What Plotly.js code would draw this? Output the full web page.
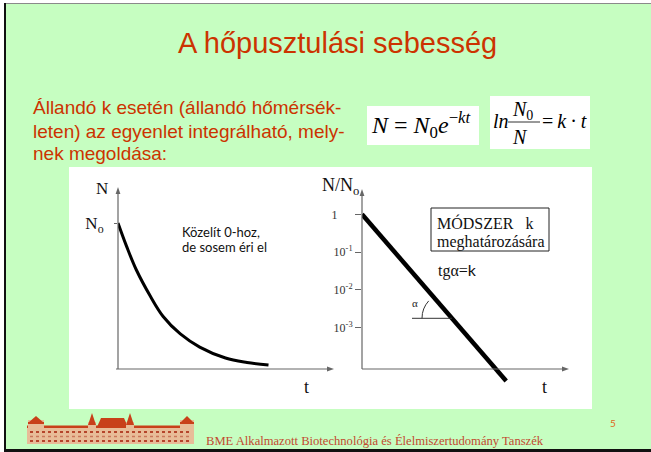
<!DOCTYPE html>
<html><head><meta charset="utf-8">
<script src="https://cdn.plot.ly/plotly-3.0.1.min.js"></script>
<style>html,body{margin:0;padding:0;background:#fff;overflow:hidden}#chart{width:651px;height:452px}</style>
</head><body><div id="chart"></div>
<script>
// ---- Data ----
// Left chart: N(t), exponential decay from N0 (N0 = 100)
const decayT = [0, 0.4, 0.85, 1.5, 2.1, 2.9, 3.8, 5.0, 6.0, 7.0];
const decayN = [100, 84, 68, 50, 36, 24, 15, 7.5, 4.5, 2.7];
const leftTickVals = [100];
const leftTickText = ['N<sub>o</sub>'];
// Right chart: N/N0 on a log scale vs t (straight line)
const logT = [0, 7];
const logRatio = [1, 0.000038];
const rightTickVals = [1, 0.1, 0.01, 0.001];
const rightTickText = ['1\u00a0\u00a0\u00a0\u00a0\u00a0', '10<sup>-1</sup>', '10<sup>-2</sup>', '10<sup>-3</sup>'];

// ---- Layout helpers ----
const W = 651, H = 452;
const px = x => x / W;
const py = y => 1 - y / H;
const SANS = 'Liberation Sans, Arial, sans-serif';
const SERIF = 'Liberation Serif, Times New Roman, serif';
const CAL = 'Lato, Open Sans, sans-serif';
const RED = '#CC3300';

function ann(text, x, y, font, xanchor, extra) {
  return Object.assign({text: text, xref: 'paper', yref: 'paper', x: px(x), y: py(y),
    showarrow: false, xanchor: xanchor || 'left', yanchor: 'middle', font: font}, extra || {});
}
function rect(x0, y0, x1, y1, fill, line, layer) {
  return {type: 'rect', xref: 'paper', yref: 'paper', x0: px(x0), x1: px(x1), y0: py(y1), y1: py(y0),
    fillcolor: fill, line: line || {width: 0}, layer: layer || 'below'};
}
function seg(x0, y0, x1, y1, color, width, dash) {
  return {type: 'line', xref: 'paper', yref: 'paper', x0: px(x0), x1: px(x1), y0: py(y0), y1: py(y1),
    line: {color: color, width: width, dash: dash || 'solid'}, layer: 'above'};
}
function poly(pts, fill, layer) {
  return {type: 'path', xref: 'paper', yref: 'paper',
    path: 'M ' + pts.map(p => px(p[0]) + ',' + py(p[1])).join(' L ') + ' Z',
    fillcolor: fill, line: {width: 0}, layer: layer || 'above'};
}

const AX = '#666';
const TAN = '#E8BC98';
const ROOF = '#C8401A';
const shapes = [
  // slide frame
  rect(6, 4, 651, 449, '#C6FEC1'),
  rect(4, 3, 651, 4, '#8a8a8a'),
  rect(4, 3, 6, 452, '#111'),
  rect(4, 449, 651, 452, '#111'),
  // white picture panel and formula boxes
  rect(69, 167, 592, 409, '#ffffff'),
  rect(367, 106, 479, 145, '#ffffff'),
  rect(490, 96, 590, 149, '#ffffff'),
  // fraction bar
  seg(508, 122, 540, 122, '#333', 1),
  // left chart axes
  seg(118, 369, 118, 191, AX, 1.2),
  seg(116, 369, 330, 369, AX, 1.2),
  poly([[115.6, 194], [118, 187], [120.4, 194]], AX),
  poly([[327, 366.6], [334, 369], [327, 371.4]], AX),
  // right chart axes
  seg(362, 369, 362, 193, AX, 1.2),
  seg(362, 369, 565, 369, AX, 1.2),
  poly([[359.6, 196], [362, 189], [364.4, 196]], AX),
  poly([[562, 366.6], [569, 369], [562, 371.4]], AX),
  // method box
  {type: 'rect', xref: 'paper', yref: 'paper', x0: px(431), x1: px(549), y0: py(251), y1: py(208),
    line: {color: '#222', width: 1}, fillcolor: 'rgba(0,0,0,0)', layer: 'above'},
  // angle alpha
  seg(412, 318.3, 452, 318.3, '#333', 1),
  {type: 'path', xref: 'paper', yref: 'paper', layer: 'above',
    path: 'M ' + px(422) + ',' + py(318.3) + ' Q ' + px(422) + ',' + py(308.3) + ' ' + px(428.7) + ',' + py(300.9),
    line: {color: '#333', width: 1}},
  // footer logo (building)
  rect(27, 427, 194, 444, TAN, null, 'above'),
  rect(27, 425.5, 194, 428, ROOF, null, 'above'),
  rect(28, 420, 44, 444, TAN, null, 'above'),
  poly([[28, 423], [36, 416], [44, 423]], ROOF),
  rect(28, 422, 44, 424, ROOF, null, 'above'),
  rect(88, 422, 96, 444, TAN, null, 'above'),
  poly([[88, 425], [92, 413], [96, 425]], ROOF),
  poly([[97, 427], [101, 418], [124, 418], [128, 427]], ROOF),
  rect(126, 422, 134, 444, TAN, null, 'above'),
  poly([[126, 425], [130, 413], [134, 425]], ROOF),
  rect(180, 420, 194, 444, TAN, null, 'above'),
  poly([[180, 423], [187, 416], [194, 423]], ROOF),
  rect(180, 422, 194, 424, ROOF, null, 'above'),
  seg(30, 432, 192, 432, '#B5442A', 2, 'dot'),
  seg(30, 436.5, 192, 436.5, '#C9765A', 1.5, 'dot'),
  seg(30, 441, 192, 441, '#B5442A', 2, 'dot')
];

const annotations = [
  ann('A hőpusztulási sebesség', 337, 43.3, {family: SANS, size: 29, color: RED}, 'center'),
  ann('Állandó k esetén (állandó hőmérsék-', 31, 107.6, {family: SANS, size: 19, color: RED}),
  ann('leten) az egyenlet integrálható, mely-', 31, 131.5, {family: SANS, size: 19, color: RED}),
  ann('nek megoldása:', 31, 153.5, {family: SANS, size: 19, color: RED}),
  // formulas
  ann('<i>N</i> = <i>N</i><sub>0</sub><i>e</i><sup>−<i>kt</i></sup>', 369, 125, {family: SERIF, size: 24, color: '#000'}),
  ann('<i>ln</i>', 491, 120.5, {family: SERIF, size: 20, color: '#000'}),
  ann('<i>N</i><sub>0</sub>', 510, 110, {family: SERIF, size: 20, color: '#000'}),
  ann('<i>N</i>', 520, 136.5, {family: SERIF, size: 20, color: '#000'}, 'center'),
  ann('=\u2009<i>k</i>\u2009·\u2009<i>t</i>', 540, 120.5, {family: SERIF, size: 20, color: '#000'}),
  // left chart text
  ann('N', 102, 188, {family: SERIF, size: 17, color: '#111'}, 'center'),
  ann('Közelít 0-hoz,', 180, 231.7, {family: CAL, size: 13, color: '#111'}),
  ann('de sosem éri el', 180, 246.7, {family: CAL, size: 13, color: '#111'}),
  ann('t', 306.5, 387, {family: SERIF, size: 18, color: '#111'}, 'center'),
  // right chart text
  ann('N/N<sub>o</sub>', 320, 187, {family: SERIF, size: 18, color: '#111'}),
  ann('MÓDSZER\u00a0\u00a0\u00a0k', 435, 223, {family: SERIF, size: 16, color: '#111'}),
  ann('meghatározására', 435, 241.5, {family: SERIF, size: 16, color: '#111'}),
  ann('tgα=<span style="font-family:Lato">k</span>', 436, 270, {family: SERIF, size: 16, color: '#111'}),
  ann('α', 415, 303, {family: SERIF, size: 11, color: '#222'}, 'center'),
  ann('t', 544.5, 387, {family: SERIF, size: 18, color: '#111'}, 'center'),
  // footer
  ann('BME Alkalmazott Biotechnológia és Élelmiszertudomány Tanszék', 204, 441, {family: SERIF, size: 12.6, color: '#C24A30'}),
  ann('5', 613, 423, {family: CAL, size: 10, color: '#E0651A'}, 'center')
];

const traces = [
  {x: decayT, y: decayN, xaxis: 'x', yaxis: 'y', type: 'scatter', mode: 'lines',
   line: {color: '#000', width: 3, shape: 'spline'}, hoverinfo: 'skip'},
  {x: logT, y: logRatio, xaxis: 'x2', yaxis: 'y2', type: 'scatter', mode: 'lines',
   line: {color: '#000', width: 4.5}, hoverinfo: 'skip'}
];

const hiddenX = {showline: false, zeroline: false, showgrid: false, showticklabels: false, ticks: '', fixedrange: true};

const layout = {
  width: W, height: H,
  margin: {l: 0, r: 0, t: 0, b: 0, pad: 0},
  paper_bgcolor: '#ffffff',
  plot_bgcolor: 'rgba(0,0,0,0)',
  showlegend: false,
  hovermode: false,
  dragmode: false,
  xaxis: Object.assign({}, hiddenX, {domain: [px(118), px(333)], range: [0, 10], anchor: 'y'}),
  yaxis: {domain: [py(369), py(188)], range: [0, 124], anchor: 'x',
    showline: false, zeroline: false, showgrid: false, fixedrange: true,
    tickmode: 'array', tickvals: leftTickVals, ticktext: leftTickText,
    ticks: 'outside', ticklen: 3, tickwidth: 1, tickcolor: AX, ticklabelstandoff: 7,
    tickfont: {family: SERIF, size: 17, color: '#111'}},
  xaxis2: Object.assign({}, hiddenX, {domain: [px(362), px(568)], range: [0, 10], anchor: 'y2'}),
  yaxis2: {domain: [py(385), py(190)], type: 'log', range: [-4.528, 0.645], anchor: 'x2',
    showline: false, zeroline: false, showgrid: false, fixedrange: true,
    tickmode: 'array', tickvals: rightTickVals, ticktext: rightTickText,
    ticks: 'outside', ticklen: 6, tickwidth: 1, tickcolor: AX,
    tickfont: {family: SERIF, size: 12, color: '#333'}},
  shapes: shapes,
  annotations: annotations
};

Plotly.newPlot('chart', traces, layout, {displayModeBar: false, staticPlot: true});
</script>
</body></html>
